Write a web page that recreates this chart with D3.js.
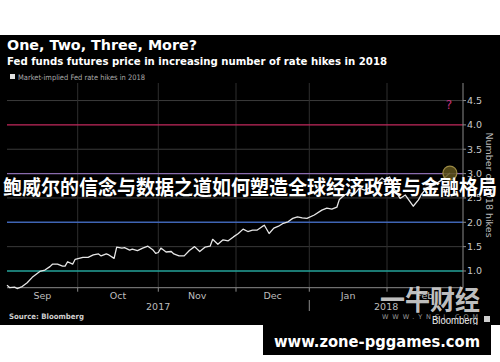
<!DOCTYPE html>
<html><head><meta charset="utf-8">
<script src="https://cdn.jsdelivr.net/npm/d3@7"></script>
<style>body{margin:0;background:#fff}svg{display:block}</style>
</head><body><svg id="c" width="500" height="362"></svg>
<script>
const dates = ["2017-09-03","2017-09-04","2017-09-06","2017-09-07","2017-09-09","2017-09-11","2017-09-13","2017-09-16","2017-09-18","2017-09-20","2017-09-21","2017-09-23","2017-09-25","2017-09-26","2017-09-27","2017-09-29","2017-09-30",
"2017-10-03","2017-10-05","2017-10-07","2017-10-09","2017-10-10","2017-10-12","2017-10-13","2017-10-15","2017-10-16","2017-10-18","2017-10-19","2017-10-21","2017-10-22","2017-10-24","2017-10-26","2017-10-28","2017-10-30","2017-10-31",
"2017-11-01","2017-11-02","2017-11-04","2017-11-06","2017-11-07","2017-11-09","2017-11-11","2017-11-13","2017-11-15","2017-11-17","2017-11-19","2017-11-21","2017-11-22","2017-11-24","2017-11-26","2017-11-28","2017-11-30",
"2017-12-02","2017-12-04","2017-12-06","2017-12-08","2017-12-10","2017-12-12","2017-12-13","2017-12-15","2017-12-17","2017-12-19","2017-12-21","2017-12-23","2017-12-25","2017-12-27","2017-12-29","2017-12-31",
"2018-01-03","2018-01-06","2018-01-08","2018-01-10","2018-01-12","2018-01-13","2018-01-15","2018-01-17","2018-01-19","2018-01-21","2018-01-23","2018-01-24","2018-01-26","2018-01-28","2018-01-30","2018-01-31",
"2018-02-02","2018-02-04","2018-02-06","2018-02-08","2018-02-11","2018-02-13","2018-02-14","2018-02-16","2018-02-19","2018-02-22","2018-02-25"];
const hikes = [0.71,0.66,0.67,0.64,0.68,0.76,0.87,0.99,1.02,1.09,1.14,1.14,1.10,1.10,1.19,1.14,1.24,
1.28,1.28,1.33,1.35,1.31,1.35,1.33,1.26,1.49,1.47,1.48,1.43,1.45,1.42,1.47,1.51,1.43,1.36,
1.38,1.47,1.39,1.40,1.35,1.31,1.31,1.42,1.50,1.40,1.49,1.51,1.65,1.55,1.64,1.62,1.70,
1.77,1.86,1.81,1.84,1.84,1.91,1.94,1.77,1.88,1.92,1.98,2.01,2.08,2.11,2.09,2.08,
2.15,2.25,2.29,2.27,2.31,2.47,2.56,2.61,2.58,2.70,2.66,2.68,2.73,2.81,2.91,2.87,
2.93,2.66,2.49,2.56,2.33,2.46,2.56,2.70,2.77,2.87,3.01];
const yTicks = [1.0,1.5,2.0,2.5,3.0,3.5,4.0,4.5];
const refLevels = [1,2,3,4];
const refColors = ["#25a39a","#3f64b4","#8a6cae","#c2285c"];
const monthBoundaries = ["2017-10-01","2017-11-01","2017-12-01","2018-01-01","2018-02-01"];
const monthLabels = ["Sep","Oct","Nov","Dec","Jan","Feb"];
const yearLabels = ["2017","2018"];
const yearBoundary = "2018-01-01";
const domainStart = "2017-09-03", domainEnd = "2018-03-02";

const title = "One, Two, Three, More?";
const subtitle = "Fed funds futures price in increasing number of rate hikes in 2018";
const legendLabel = "Market-implied Fed rate hikes in 2018";
const yTitle = "Number of 2018 hikes";
const overlay = "鲍威尔的信念与数据之道如何塑造全球经济政策与金融格局";

const parse = d3.timeParse("%Y-%m-%d");
const data = dates.map((d,i)=>({date:parse(d), v:hikes[i]}));
const svg = d3.select("#c");

const L=7, R=463, T=83, B=287.7;
const x = d3.scaleTime()
  .domain([domainStart, ...monthBoundaries, domainEnd].map(parse))
  .range([L, 77.7, 158.3, 236, 309.3, 387, R]);
const y = d3.scaleLinear().domain([0.657, 4.86]).range([B, T]);

svg.append("rect").attr("width",500).attr("height",362).attr("fill","#fff");
svg.append("rect").attr("y",35).attr("width",500).attr("height",290).attr("fill","#000");

// titles
svg.append("text").attr("x",7).attr("y",50).text(title)
  .attr("font-family","DejaVu Sans").attr("font-weight","bold").attr("font-size",14.5)
  .attr("fill","#fff").attr("textLength",190).attr("lengthAdjust","spacingAndGlyphs");
svg.append("text").attr("x",7).attr("y",64.5).text(subtitle)
  .attr("font-family","DejaVu Sans").attr("font-weight","bold").attr("font-size",11)
  .attr("fill","#fff").attr("textLength",380).attr("lengthAdjust","spacingAndGlyphs");
svg.append("rect").attr("x",10).attr("y",74).attr("width",5).attr("height",5).attr("fill","#e0e0e0");
svg.append("text").attr("x",18).attr("y",79.5).text(legendLabel)
  .attr("font-family","DejaVu Sans").attr("font-size",7.5).attr("fill","#aaa")
  .attr("textLength",127).attr("lengthAdjust","spacingAndGlyphs");

// grid
const g = svg.append("g");
g.selectAll("line.hg").data(yTicks.filter(t=>!refLevels.includes(t))).join("line")
  .attr("x1",L).attr("x2",R).attr("y1",d=>y(d)).attr("y2",d=>y(d))
  .attr("stroke","#3a3a3a").attr("stroke-width",1);
g.selectAll("line.vg").data(monthBoundaries.map(parse)).join("line")
  .attr("x1",d=>x(d)).attr("x2",d=>x(d)).attr("y1",T).attr("y2",B)
  .attr("stroke","#2e2e2e").attr("stroke-width",1);
g.selectAll("line.ref").data(refLevels).join("line")
  .attr("x1",L).attr("x2",R).attr("y1",d=>y(d)).attr("y2",d=>y(d))
  .attr("stroke",(d,i)=>refColors[i]).attr("stroke-width",1.4);

// axes
svg.append("line").attr("x1",L).attr("x2",R).attr("y1",B).attr("y2",B).attr("stroke","#8a8a8a");
svg.append("line").attr("x1",R).attr("x2",R).attr("y1",T).attr("y2",B).attr("stroke","#8a8a8a");
svg.selectAll("line.xt").data(monthBoundaries.map(parse)).join("line")
  .attr("x1",d=>x(d)).attr("x2",d=>x(d)).attr("y1",B).attr("y2",B+4).attr("stroke","#8a8a8a");
svg.append("line").attr("x1",x(parse(yearBoundary))).attr("x2",x(parse(yearBoundary)))
  .attr("y1",300).attr("y2",311).attr("stroke","#8a8a8a");
const edges = [domainStart,...monthBoundaries,domainEnd].map(parse).map(d=>x(d));
svg.selectAll("text.m").data(monthLabels).join("text")
  .attr("x",(d,i)=>(edges[i]+edges[i+1])/2).attr("y",298.5).attr("text-anchor","middle")
  .text(d=>d).attr("font-family","DejaVu Sans").attr("font-size",9.5).attr("fill","#bdbdbd");
const yb = x(parse(yearBoundary));
svg.selectAll("text.yr").data(yearLabels).join("text")
  .attr("x",(d,i)=>i===0?(L+yb)/2:(yb+R)/2).attr("y",309.5).attr("text-anchor","middle")
  .text(d=>d).attr("font-family","DejaVu Sans").attr("font-size",9.5).attr("fill","#bdbdbd");
svg.selectAll("line.yt").data(yTicks).join("line")
  .attr("x1",R).attr("x2",R+3).attr("y1",d=>y(d)).attr("y2",d=>y(d)).attr("stroke","#8a8a8a");
svg.selectAll("text.yl").data(yTicks).join("text")
  .attr("x",467).attr("y",d=>y(d)+3.5).text(d=>d3.format(".1f")(d))
  .attr("font-family","DejaVu Sans").attr("font-size",9.5).attr("fill","#c8c8c8");
svg.append("text").attr("transform","translate(486,185) rotate(90)").attr("text-anchor","middle")
  .text(yTitle).attr("font-family","DejaVu Sans").attr("font-size",9.5).attr("fill","#b8b8b8");

// line
svg.append("path").datum(data)
  .attr("d",d3.line().x(d=>x(d.date)).y(d=>y(d.v)))
  .attr("fill","none").attr("stroke","#e6e6e6").attr("stroke-width",1.3).attr("stroke-linejoin","round");
const last = data[data.length-1];
svg.append("circle").attr("cx",x(last.date)).attr("cy",y(last.v)).attr("r",7)
  .attr("fill","#5e521c").attr("fill-opacity",0.85).attr("stroke","#9c8a44").attr("stroke-width",1.2);
svg.append("text").attr("x",449).attr("y",109).attr("text-anchor","middle").text("?")
  .attr("font-family","DejaVu Sans").attr("font-size",12).attr("fill","#c0307a");

svg.append("text").attr("x",9).attr("y",319).text("Source: Bloomberg")
  .attr("font-family","DejaVu Sans").attr("font-weight","bold").attr("font-size",7.5).attr("fill","#d0d0d0")
  .attr("textLength",75).attr("lengthAdjust","spacingAndGlyphs");

// overlay text
svg.append("text").attr("x",3).attr("y",195).text(overlay)
  .attr("font-family","Noto Sans CJK SC").attr("font-weight","bold").attr("font-size",20)
  .attr("fill","#fff").attr("textLength",494).attr("lengthAdjust","spacingAndGlyphs");

// watermark
svg.append("text").attr("x",380).attr("y",310).text("一牛财经")
  .attr("font-family","Noto Sans CJK SC").attr("font-weight","bold").attr("font-size",27)
  .attr("fill","#d9d9d9").attr("fill-opacity",0.9).attr("textLength",100).attr("lengthAdjust","spacingAndGlyphs");
svg.append("text").attr("x",382).attr("y",319).text("WWW.YNCJ.COM")
  .attr("font-family","DejaVu Sans").attr("font-size",6.5).attr("fill","#9a9a9a")
  .attr("textLength",96).attr("lengthAdjust","spacing");
svg.append("text").attr("x",432).attr("y",324).text("Bloomberg")
  .attr("font-family","Liberation Sans").attr("font-size",10.5).attr("fill","#f0f0f0")
  .attr("textLength",46).attr("lengthAdjust","spacingAndGlyphs");
svg.append("rect").attr("x",484).attr("y",316).attr("width",6).attr("height",6).attr("fill","#cfcfcf");

// bottom url box
svg.append("rect").attr("x",263).attr("y",325).attr("width",228).attr("height",30).attr("fill","#000");
svg.append("text").attr("x",377).attr("y",347).attr("text-anchor","middle").text("www.zone-pggames.com")
  .attr("font-family","DejaVu Sans").attr("font-weight","bold").attr("font-size",16)
  .attr("fill","#fff").attr("textLength",206).attr("lengthAdjust","spacingAndGlyphs");
</script></body></html>
